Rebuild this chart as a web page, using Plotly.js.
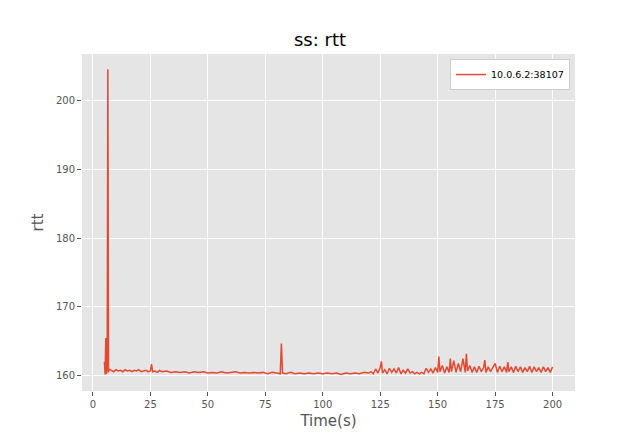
<!DOCTYPE html>
<html>
<head>
<meta charset="utf-8">
<script src="https://cdn.plot.ly/plotly-3.0.1.min.js"></script>
<style>body{margin:0;background:#fff}</style>
</head>
<body>
<div id="chart" style="width:640px;height:440px"></div>
<script>
// rtt samples (time in s, rtt in ms)
var timeS = [5,5.3,5.6,5.9,6.2,6.5,6.8,7,8,9,10,11,12,13,14,15,16,17,18,19,20,21,22,23,24,25,25.5,26,27,28,29,30,
  32,34,36,38,40,42,44,46,48,50,52,54,56,58,60,62,64,66,68,70,72,74,76,78,80,81.5,82,82.5,84,86,88,90,92,94,96,98,100,
  102,104,106,108,110,112,114,116,118,120,121,122,123,124,125,125.5,126,127,128,129,130,131,132,133,134,135,136,137,138,139,140,
  141,142,143,144,145,146,147,148,149,150,150.5,151,152,153,154,155,155.5,156,157,158,159,160,161,162,162.5,163,164,165,
  166,167,168,169,170,170.5,171,172,173,174,175,176,177,178,179,180,180.5,181,182,183,184,185,186,187,188,189,190,
  191,192,193,194,195,196,197,198,199,200];
var rtt = [162,160.2,165.5,160.3,161,204.5,160.5,161,160.8,160.6,160.9,160.7,160.8,160.6,160.9,160.7,160.8,160.6,160.8,160.7,160.9,160.6,160.7,160.8,160.6,160.7,161.7,160.6,160.7,160.5,160.8,160.6,
  160.7,160.5,160.6,160.5,160.6,160.4,160.6,160.5,160.6,160.4,160.5,160.4,160.6,160.4,160.5,160.6,160.4,160.5,160.4,160.5,160.4,160.5,160.3,160.5,160.4,160.3,164.7,160.4,160.3,160.5,160.3,160.4,160.3,160.4,160.3,160.4,160.3,
  160.4,160.3,160.4,160.2,160.4,160.3,160.4,160.3,160.5,160.4,160.6,160.3,161,160.4,161.2,162.1,160.4,160.9,160.3,161.1,160.5,161,160.4,161.2,160.3,160.8,160.4,161,160.4,160.6,160.3,
  160.5,160.3,160.5,160.3,161.1,160.5,161,160.4,161.2,160.5,162.8,160.6,161.5,160.4,161.3,160.5,162.5,160.6,162.2,160.5,161.8,160.6,162.5,160.5,163.2,160.7,161.5,160.5,
  161.3,160.5,161.4,160.6,161.2,162.3,160.5,161.3,160.6,161.2,161.8,160.5,161.4,160.6,161.3,160.5,162,160.6,161.3,160.5,161.4,160.6,161.3,160.5,161.2,160.6,161.4,
  160.5,161.3,160.6,161.2,160.5,161.3,160.6,161.2,160.5,161.3];

var trace = {
  x: timeS, y: rtt, type: 'scatter', mode: 'lines',
  name: '10.0.6.2:38107',
  line: {color: '#E24A33', width: 1.5}
};

var layout = {
  width: 640, height: 440,
  margin: {l: 82, r: 65, t: 54, b: 49},
  paper_bgcolor: '#fff',
  plot_bgcolor: '#E5E5E5',
  font: {family: 'DejaVu Sans', color: '#555'},
  title: {text: 'ss: rtt', font: {size: 18, color: '#000'}, x: 0.5, y: 0.925},
  xaxis: {
    range: [-4.75, 209.75], tickvals: [0,25,50,75,100,125,150,175,200],
    gridcolor: '#fff', zeroline: false, ticks: 'outside', ticklen: 4, tickcolor: '#555',
    tickfont: {size: 10},
    title: {text: 'Time(s)', font: {size: 15, color: '#555'}, standoff: 6}
  },
  yaxis: {
    range: [157.8, 206.7], tickvals: [160,170,180,190,200],
    gridcolor: '#fff', zeroline: false, ticks: 'outside', ticklen: 4, tickcolor: '#555',
    tickfont: {size: 10},
    title: {text: 'rtt', font: {size: 15, color: '#555'}, standoff: 8}
  },
  showlegend: true,
  legend: {
    x: 0.99, y: 0.985, xanchor: 'right', yanchor: 'top',
    bgcolor: '#fff', bordercolor: '#ccc', borderwidth: 1,
    font: {size: 9.5, color: '#000'}, tracegroupgap: 0
  }
};

Plotly.newPlot('chart', [trace], layout, {displayModeBar: false});
</script>
</body>
</html>
